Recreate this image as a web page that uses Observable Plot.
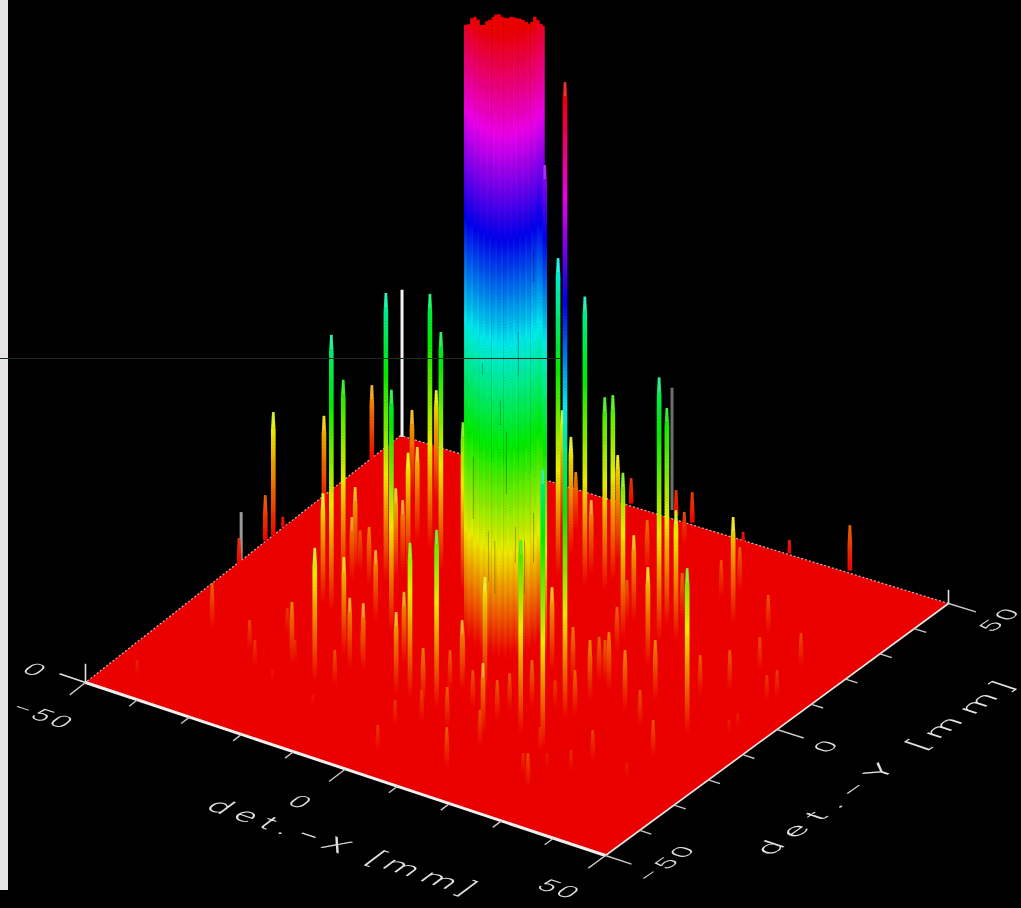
<!doctype html>
<html><head><meta charset="utf-8">
<script src="https://cdn.jsdelivr.net/npm/d3@7"></script>
<script src="https://cdn.jsdelivr.net/npm/@observablehq/plot@0.6"></script>
<style>html,body{margin:0;background:#000}svg{display:block}</style></head>
<body><div id="chart"></div>
<script>
// Spikes on the detector plane: det-X, det-Y [mm], height (percent of the central peak)
const spikeX=[-49.7,-50.1,-49.9,-50.0,-47.4,-31.7,-29.4,-32.1,-20.3,-49.5,-27.3,-18.0,-38.7,-27.0,-34.3,-21.8,-15.4,-26.1,-30.0,-26.0,
-26.8,-33.1,-31.8,-32.4,-28.7,-21.8,-19.5,-3.9,1.4,-25.5,-31.3,-17.1,-14.8,-6.4,-10.6,-1.1,0.2,6.3,0.7,6.2,12.1,4.8,11.6,17.1,
14.0,22.5,10.2,17.1,20.3,6.6,-5.5,-12.7,-7.3,-10.9,-0.3,-1.5,3.2,2.5,-0.3,13.7,-8.3,12.2,5.3,21.9,19.0,17.4,21.2,-0.4,5.8,2.9,
39.0,18.5,11.3,19.6,25.7,13.1,20.8,20.8,32.0,37.4,14.7,18.1,21.2,15.2,31.6,43.6,44.4,42.2,44.6,44.5,-44.2,-42.2,-33.4,-30.1,-25.2,
-25.3,-15.4,-16.7,1.1,13.3,27.6,26.6,30.3,38.9,22.7,38.8,31.4,24.5,1.8,11.7,21.1,20.4,26.8,31.4,29.0,18.9,37.0,34.0,1.7,-16.0,
-1.0,13.8];
const spikeY=[-1.6,7.4,9.6,12.8,21.4,-5.4,-6.6,1.6,-17.7,40.2,6.9,-6.8,34.3,20.1,34.4,14.8,11.0,11.8,21.2,7.8,11.3,7.0,3.8,7.4,4.0,-5.4,
-28.0,-24.0,-24.4,-25.3,-17.2,-21.1,-20.7,-24.2,-15.0,-24.5,-18.4,-29.0,-15.3,-21.1,-27.4,-15.2,-18.6,-24.0,-15.7,-25.9,-3.6,
-13.7,-15.8,0.0,23.8,37.0,30.7,38.2,23.4,27.3,23.7,27.3,33.4,12.1,50.8,17.8,33.1,6.4,14.4,19.3,15.9,51.3,43.5,50.7,-9.0,22.1,17.2,
32.0,25.7,49.2,35.6,50.4,26.0,14.9,-4.5,-2.1,-4.1,7.9,50.8,7.2,8.9,19.4,-2.9,-5.3,-43.1,-22.7,-25.5,-29.3,-31.9,-24.7,-35.2,-18.0,
-41.8,-40.2,-38.3,-31.1,-29.7,-26.6,-27.0,-18.7,-25.0,-34.9,-17.3,-22.5,-14.1,-8.5,-8.2,-11.0,-2.7,-1.6,6.7,2.7,-29.4,-27.5,-33.2,
-31.0];
const spikeLevel=[4.0,7.2,19.7,1.6,15.1,17.6,44.1,32.9,15.4,12.0,46.0,38.5,13.3,40.7,17.6,38.1,26.9,18.8,14.9,14.7,11.2,13.3,10.1,6.4,9.3,11.2,
21.2,24.7,28.4,9.8,4.0,11.1,10.7,13.0,11.4,8.8,6.4,6.4,9.0,5.9,11.2,18.1,5.9,30.9,7.5,44.4,13.3,4.3,101.9,78.5,50.8,19.2,18.9,9.3,
46.2,11.7,30.9,29.6,16.8,26.3,4.0,13.6,8.0,15.7,42.1,34.8,20.8,4.0,5.3,4.8,26.4,7.5,6.4,5.9,17.0,1.8,6.9,2.1,6.1,5.3,8.5,6.9,9.3,
6.9,7.2,4.0,4.3,5.4,2.2,2.1,2.4,7.2,4.8,4.0,1.6,3.5,1.6,4.8,4.0,6.4,5.4,2.2,3.2,2.2,3.7,5.9,4.8,3.2,11.2,6.4,7.2,9.6,9.6,5.6,9.6,
6.4,6.4,6.4,4.8,5.6,4.0,5.6];
// The central peak: one bundle of narrow strips
const peakX=[-7.8,-6.0,-6.3,-4.2,-4.5,-2.5,-3.0,-1.2,-1.7,-0.0,-0.7,1.1,0.4,1.9,1.1,2.5,1.7,3.1,2.3,3.6,2.6,3.8,2.7,3.7,2.4,3.1,2.0];
const peakY=[-0.6,-2.6,-1.2,-3.7,-2.3,-4.6,-2.9,-4.9,-3.2,-4.9,-3.0,-5.0,-3.0,-4.4,-2.2,-3.6,-1.4,-2.8,-0.5,-1.7,0.9,-0.3,2.5,1.7,4.7,4.5,6.9];
const peakLevel=[97.3,98.7,99.0,100.8,99.7,100.3,99.5,101.4,100.8,102.4,101.8,103.2,101.8,102.6,101.4,102.6,101.4,102.2,101.0,101.6,100.0,100.5,99.4,100.8,98.7,98.4,96.8];
// Dark creases on the central peak: strip number, from and to level
const creaseStrip=[2,9,16,19,11,22,17,5,22,13,7];
const creaseFrom=[20,8,13,8,35,13,43,43,58,24,10];
const creaseTo=[30,16.5,18.7,16.5,39,21,50,45,63,34,18];
// Uncoloured (grey/white) spikes
const paleX=[-49.4,-49.9,-1.8];
const paleY=[49.6,-0.6,52.4];
const paleLevel=[23.6,7.7,19.6];
const paleTone=["#f2f2f2","#999999","#6f6f66"];
// Axes
const tickValues=[-50,-40,-30,-20,-10,0,10,20,30,40,50];
const tickLabels=[-50,0,50];
const plane=[[-50,-50],[50,-50],[50,50],[-50,50]];

// Projection of the detector plane onto the view
const corners={a:[85,682],b:[605,855],c:[948,603],d:[400,435]};
const zPixels=6.24;
function project(X,Y,z=0){
  const u=(X+50)/100,v=(Y+50)/100;
  const f=i=>corners.a[i]*(1-u)*(1-v)+corners.b[i]*u*(1-v)+corners.c[i]*u*v+corners.d[i]*(1-u)*v;
  return [f(0),f(1)-z*zPixels];
}
const sx=(X,Y,z)=>project(X,Y,z)[0], sy=(X,Y,z)=>project(X,Y,z)[1];

// Thin horizontal slices per spike, so that colour follows height
const spikes=[];
spikeX.forEach((X,i)=>spikes.push({X,Y:spikeY[i],L:spikeLevel[i],kind:"spike"}));
peakX.forEach((X,i)=>spikes.push({X,Y:peakY[i],L:peakLevel[i],kind:"peak"}));
paleX.forEach((X,i)=>spikes.push({X,Y:paleY[i],L:paleLevel[i],kind:"pale",tone:paleTone[i]}));
spikes.sort((a,b)=>sy(a.X,a.Y)-sy(b.X,b.Y));
const dz=0.5;
const slices=[];
spikes.forEach((s,k)=>{
  if(s.kind==="pale") return;
  const cx=sx(s.X,s.Y), base=sy(s.X,s.Y);
  for(let z=0;z<s.L;z+=dz){
    const top=Math.min(z+dz,s.L);
    const fromTop=(s.L-z)*zPixels;
    const w=s.kind==="peak"?3.6:Math.min(4.6,2.4+fromTop*0.11);
    slices.push({k,x1:cx-w/2,x2:cx+w/2,y1:base-z*zPixels+0.5,y2:base-top*zPixels,level:z+dz/2});
  }
});
const paleSlices=spikes.filter(s=>s.kind==="pale").map(s=>{
  const cx=sx(s.X,s.Y), base=sy(s.X,s.Y);
  return {x1:cx-1.5,x2:cx+1.5,y1:base,y2:base-s.L*zPixels,tone:s.tone};
});
const caps=spikes.filter(s=>s.kind==="spike"&&s.L>10).map(s=>{
  const cx=sx(s.X,s.Y), base=sy(s.X,s.Y);
  return {x1:cx-1.2,x2:cx+1.2,y1:base-s.L*zPixels+14,y2:base-s.L*zPixels};
});
const creases=creaseStrip.map((n,i)=>{
  const cx=sx(peakX[n],peakY[n]);
  return {x1:cx+0.9,x2:cx+1.9,y1:sy(0,0,creaseFrom[i]),y2:sy(0,0,creaseTo[i])};
});
const plate=plane.map(([X,Y])=>({x:sx(X,Y),y:sy(X,Y)}));
const edge=(A,B)=>({x1:sx(...A),y1:sy(...A),x2:sx(...B),y2:sy(...B)});

const xTicks=tickValues.map(v=>{const m=tickLabels.includes(v);return edge([v,-50],[v,-50-(m?5:2.6)]);});
const yTicks=tickValues.map(v=>{const m=tickLabels.includes(v);return edge([50,v],[50+(m?5:2.2),v]);});
const zTicks=[
  {x1:sx(-50,-50),y1:sy(-50,-50),x2:sx(-50,-50),y2:sy(-50,-50,3)},
  {x1:sx(50,50),y1:sy(50,50),x2:sx(50,50),y2:sy(50,50,2.2)},
  edge([-50,-50],[-55,-50])
];
const xText=tickLabels.map(v=>({x:sx(v,-63.5),y:sy(v,-63.5),t:String(v).replace("-","\u2212")}));
xText.push({x:sx(-58.8,-51.3),y:sy(-58.8,-51.3),t:"0"});
const yText=tickLabels.map(v=>({x:sx(59.5,v===-50?-46.4:v),y:sy(59.5,v===-50?-46.4:v),t:String(v).replace("-","\u2212")}));
const xTitle=[{x:sx(14,-72),y:sy(14,-72),t:"det.\u2212X [mm]"}];
const yTitle=[{x:sx(71,0),y:sy(71,0),t:"det.\u2212Y [mm]"}];
const ink="#e2e2e2", font="Roboto";

const chart=Plot.plot({
  width:1021,height:908,margin:0,
  style:{background:"#000",filter:"blur(0.7px)"},
  x:{domain:[0,1021],range:[0,1021],axis:null},
  y:{domain:[0,908],range:[0,908],axis:null},
  color:{type:"linear",domain:[0,100],clamp:true,interpolate:t=>d3.hsl(360*t,1,0.46).formatHex()},
  marks:[
    Plot.rect([{x1:0,x2:8,y1:0,y2:890}],{x1:"x1",x2:"x2",y1:"y1",y2:"y2",fill:"#e4e4e4"}),
    Plot.line(plate.concat(plate[0]),{x:"x",y:"y",fill:"#eb0000",stroke:"none"}),
    Plot.link([edge([50,50],[-50,50]),edge([-50,50],[-50,-50])],{x1:"x1",y1:"y1",x2:"x2",y2:"y2",stroke:"#eee",strokeWidth:1.2,strokeDasharray:"2 2",strokeOpacity:0.75}),
    Plot.rect(paleSlices,{x1:"x1",x2:"x2",y1:"y1",y2:"y2",fill:"tone"}),
    Plot.rect(slices,{x1:"x1",x2:"x2",y1:"y1",y2:"y2",fill:"level"}),
    Plot.rect(caps,{x1:"x1",x2:"x2",y1:"y1",y2:"y2",fill:"#fff",fillOpacity:0.2}),
    Plot.rect(creases,{x1:"x1",x2:"x2",y1:"y1",y2:"y2",fill:"#000",fillOpacity:0.28}),
    Plot.ruleY([358],{x1:0,x2:562,stroke:"#1c2a1c",strokeWidth:1}),
    Plot.link([edge([-50,-50],[50,-50])],{x1:"x1",y1:"y1",x2:"x2",y2:"y2",stroke:"#f4eeee",strokeWidth:3}),
    Plot.link([edge([50,-50],[50,50])],{x1:"x1",y1:"y1",x2:"x2",y2:"y2",stroke:"#f0e4e4",strokeWidth:1.6}),
    Plot.link(xTicks,{x1:"x1",y1:"y1",x2:"x2",y2:"y2",stroke:"#c8c8c8",strokeWidth:1.4}),
    Plot.link(yTicks,{x1:"x1",y1:"y1",x2:"x2",y2:"y2",stroke:"#c8c8c8",strokeWidth:1.4}),
    Plot.link(zTicks,{x1:"x1",y1:"y1",x2:"x2",y2:"y2",stroke:"#e0e0e0",strokeWidth:1.6}),
    Plot.text(xText,{x:"x",y:"y",text:"t",fontSize:30,fontWeight:300,fill:ink,fontFamily:font}),
    Plot.text(yText,{x:"x",y:"y",text:"t",fontSize:30,fontWeight:300,fill:ink,fontFamily:font}),
    Plot.text(xTitle,{x:"x",y:"y",text:"t",fontSize:35,fontWeight:300,fill:ink,fontFamily:font}),
    Plot.text(yTitle,{x:"x",y:"y",text:"t",fontSize:36,fontWeight:300,fill:ink,fontFamily:font})
  ]
});
document.getElementById("chart").append(chart);
const textGroups=d3.select(chart).selectAll('g[aria-label="text"]').nodes();
const skew=(n,m,spacing)=>d3.select(textGroups[n]).selectAll("text")
  .attr("transform",function(){return (this.getAttribute("transform")||"")+` matrix(${m},0,0)`;})
  .style("letter-spacing",spacing);
const flatX="0.95,0.316,-0.6,0.45", flatY="0.82,-0.57,0.72,0.24";
skew(0,flatX,"0.12em");
skew(1,flatY,"0.12em");
skew(2,flatX,"0.25em");
skew(3,flatY,"0.3em");
</script></body></html>
